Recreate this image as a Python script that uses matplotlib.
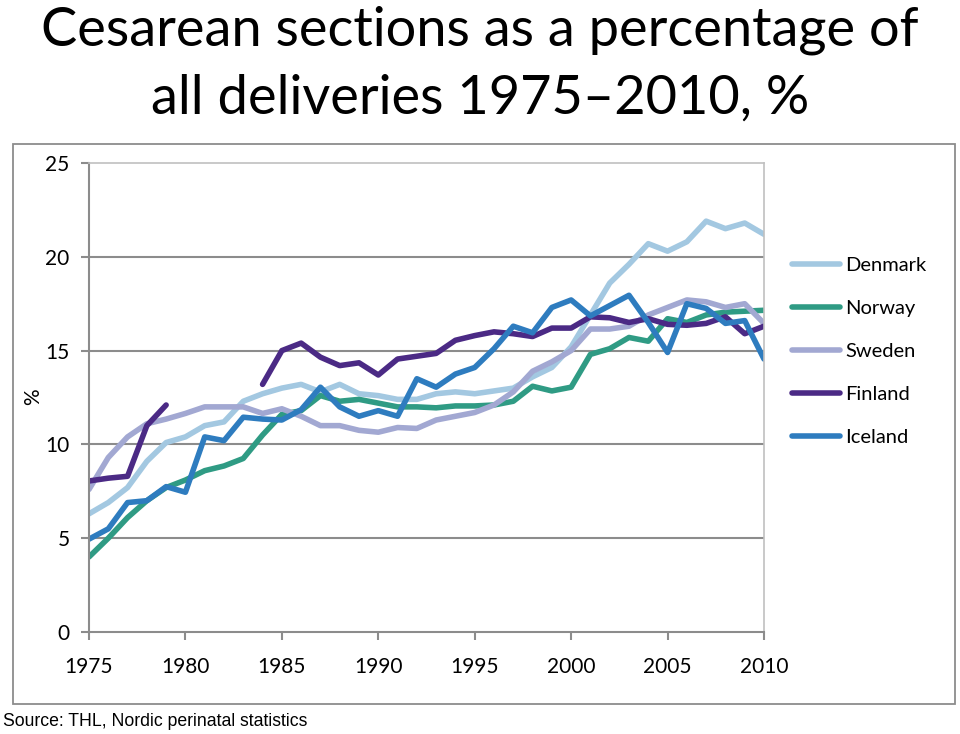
import numpy as np
import matplotlib.pyplot as plt
from matplotlib.patches import Rectangle

years = list(range(1975, 2011))

denmark = [6.3, 6.9, 7.7, 9.1, 10.1, 10.4, 11.0, 11.2, 12.3, 12.7, 13.0, 13.2,
           12.8, 13.2, 12.7, 12.6, 12.4, 12.4, 12.7, 12.8, 12.7, 12.85, 13.0, 13.6,
           14.1, 15.2, 16.9, 18.6, 19.6, 20.7, 20.3, 20.8, 21.9, 21.5, 21.8, 21.2]
norway = [4.0, 5.0, 6.1, 7.0, 7.7, 8.1, 8.6, 8.85, 9.25, 10.5, 11.6, 11.8,
          12.6, 12.3, 12.4, 12.2, 12.0, 12.0, 11.95, 12.05, 12.05, 12.1, 12.3, 13.1,
          12.85, 13.05, 14.8, 15.1, 15.7, 15.5, 16.7, 16.5, 16.9, 17.05, 17.1, 17.15]
sweden = [7.6, 9.3, 10.4, 11.1, 11.35, 11.65, 12.0, 12.0, 12.0, 11.65, 11.9, 11.5,
          11.0, 11.0, 10.75, 10.65, 10.9, 10.85, 11.3, 11.5, 11.7, 12.1, 12.8, 13.9,
          14.4, 15.0, 16.15, 16.15, 16.3, 16.9, 17.3, 17.7, 17.6, 17.3, 17.5, 16.45]
finland = [8.05, 8.2, 8.3, 11.0, 12.1, np.nan, np.nan, np.nan, np.nan, 13.2, 15.0, 15.4,
           14.65, 14.2, 14.35, 13.7, 14.55, 14.7, 14.85, 15.55, 15.8, 16.0, 15.9, 15.75,
           16.2, 16.2, 16.8, 16.75, 16.5, 16.7, 16.4, 16.35, 16.45, 16.8, 15.9, 16.3]
iceland = [4.95, 5.5, 6.9, 7.0, 7.75, 7.45, 10.4, 10.2, 11.45, 11.35, 11.3, 11.85,
           13.05, 12.0, 11.5, 11.8, 11.5, 13.5, 13.05, 13.75, 14.1, 15.1, 16.3, 15.95,
           17.3, 17.7, 16.85, 17.4, 17.95, 16.5, 14.9, 17.5, 17.25, 16.45, 16.6, 14.55]

series = [('Denmark', denmark, '#a3c8e1'),
          ('Norway', norway, '#2f9b84'),
          ('Sweden', sweden, '#a2a8d2'),
          ('Finland', finland, '#4b2a85'),
          ('Iceland', iceland, '#2e7cbf')]

plt.rcParams['font.family'] = ['Lato', 'DejaVu Sans']

fig = plt.figure(figsize=(9.6, 7.34), dpi=100)
ax = fig.add_axes([89/960, 1-632/734, (764-89)/960, (632-163)/734])

# chart border
fig.patches.append(Rectangle((13/960, 1-704/734), (955-13)/960, (704-144)/734,
                             transform=fig.transFigure, fill=False,
                             edgecolor='#8c8c8c', lw=1.3))

for name, vals, col in series:
    ax.plot(years, vals, color=col, lw=4, label=name, solid_capstyle='round')

ax.set_xlim(1975, 2010)
ax.set_ylim(0, 25)
ax.set_xticks(range(1975, 2011, 5))
ax.set_yticks(range(0, 26, 5))
for y in range(5, 21, 5):
    ax.axhline(y, color='#8c8c8c', lw=1.5, zorder=0)
for s in ['left', 'bottom']:
    ax.spines[s].set_color('#8c8c8c')
    ax.spines[s].set_linewidth(1.5)
for s in ['top', 'right']:
    ax.spines[s].set_color('#c0c0c0')
    ax.spines[s].set_linewidth(1.2)
ax.tick_params(direction='out', length=6, width=1.5, color='#8c8c8c',
               labelsize=15)
ax.tick_params(axis='x', pad=12)
ax.tick_params(axis='y', pad=8)
fig.text(33/960, 1-397/734, '%', rotation=90, ha='center', va='center', fontsize=15)

fig.legend(loc='upper left', bbox_to_anchor=(792/960, 1-257/734), frameon=False,
           fontsize=14.5, handlelength=2.4, handletextpad=0.25, labelspacing=1.28,
           borderpad=0, borderaxespad=0)

fig.text(0.5, 1-30/734, 'Cesarean sections as a percentage of', ha='center', va='center',
         fontsize=39)
fig.text(0.5, 1-98/734, 'all deliveries 1975\u20132010, %', ha='center', va='center',
         fontsize=39)
fig.text(3/960, 1-722/734, 'Source: THL, Nordic perinatal statistics', ha='left', va='center',
         fontsize=12.7, family=['Liberation Sans', 'DejaVu Sans'])

fig.savefig('out.png', dpi=100)
